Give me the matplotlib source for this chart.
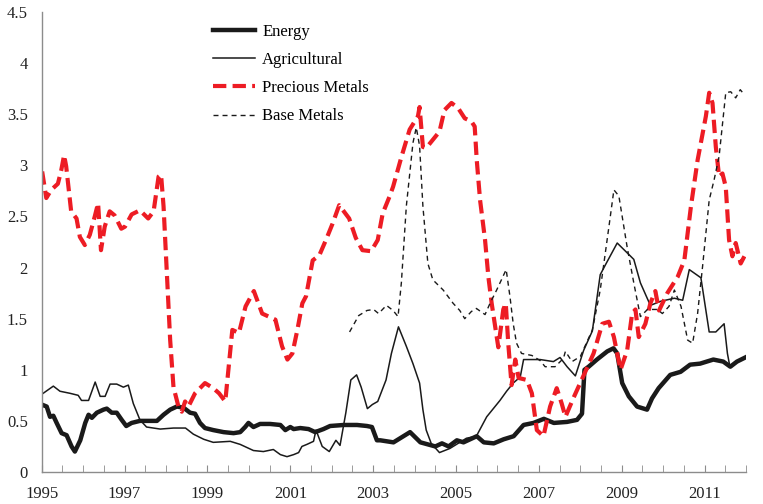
import matplotlib.pyplot as plt
import numpy as np

# dates in decimal years
energy_t = [1995.00, 1995.12, 1995.20, 1995.28, 1995.36, 1995.48, 1995.60, 1995.72, 1995.80, 1995.93,
            1996.05, 1996.13, 1996.21, 1996.33, 1996.49, 1996.57, 1996.69, 1996.81, 1996.93, 1997.04,
            1997.17, 1997.37, 1997.78, 1997.94, 1998.10, 1998.26, 1998.42, 1998.58, 1998.70, 1998.82,
            1998.94, 1999.14, 1999.39, 1999.63, 1999.79, 1999.91, 1999.99, 2000.11, 2000.27, 2000.51,
            2000.76, 2000.88, 2001.00, 2001.08, 2001.24, 2001.44, 2001.60, 2001.80, 2001.96, 2002.29,
            2002.61, 2002.85, 2002.97, 2003.09, 2003.17, 2003.49, 2003.89, 2004.14, 2004.50, 2004.66,
            2004.82, 2005.02, 2005.18, 2005.50, 2005.67, 2005.91, 2006.15, 2006.39, 2006.63, 2006.87,
            2007.12, 2007.36, 2007.68, 2007.92, 2008.04, 2008.10, 2008.20, 2008.40, 2008.65, 2008.80,
            2008.89, 2009.01, 2009.17, 2009.37, 2009.61, 2009.73, 2009.89, 2010.17, 2010.42, 2010.65,
            2010.89, 2011.21, 2011.45, 2011.62, 2011.78, 2011.98]
energy_v = [0.66, 0.64, 0.54, 0.55, 0.48, 0.38, 0.36, 0.25, 0.20, 0.31,
            0.48, 0.56, 0.53, 0.58, 0.61, 0.62, 0.58, 0.58, 0.51, 0.45,
            0.48, 0.50, 0.50, 0.56, 0.61, 0.64, 0.63, 0.58, 0.57, 0.48,
            0.43, 0.41, 0.39, 0.38, 0.39, 0.44, 0.48, 0.44, 0.47, 0.47,
            0.46, 0.41, 0.44, 0.42, 0.43, 0.42, 0.39, 0.42, 0.45, 0.46,
            0.46, 0.45, 0.44, 0.31, 0.31, 0.29, 0.39, 0.29, 0.25, 0.28,
            0.25, 0.31, 0.29, 0.35, 0.29, 0.28, 0.32, 0.35, 0.46, 0.48,
            0.52, 0.48, 0.49, 0.51, 0.57, 1.00, 1.03, 1.10, 1.18, 1.21,
            1.16, 0.87, 0.74, 0.64, 0.61, 0.72, 0.82, 0.95, 0.98, 1.05,
            1.06, 1.10, 1.08, 1.03, 1.08, 1.12]

agri_t = [1995.00, 1995.28, 1995.44, 1995.68, 1995.88, 1995.96, 1996.13, 1996.29, 1996.41, 1996.53,
          1996.65, 1996.81, 1996.97, 1997.09, 1997.21, 1997.37, 1997.53, 1997.86, 1998.18, 1998.47,
          1998.66, 1998.91, 1999.14, 1999.55, 1999.79, 2000.11, 2000.35, 2000.59, 2000.76, 2000.92,
          2001.08, 2001.20, 2001.28, 2001.40, 2001.56, 2001.62, 2001.77, 2001.94, 2002.10, 2002.20,
          2002.34, 2002.46, 2002.60, 2002.71, 2002.86, 2002.98, 2003.11, 2003.31, 2003.44, 2003.61,
          2003.80, 2003.96, 2004.12, 2004.20, 2004.28, 2004.40, 2004.60, 2004.85, 2005.05, 2005.25,
          2005.49, 2005.74, 2005.90, 2006.06, 2006.22, 2006.38, 2006.55, 2006.63, 2007.03, 2007.35,
          2007.51, 2007.68, 2007.88, 2008.08, 2008.29, 2008.48, 2008.61, 2008.89, 2009.29, 2009.45,
          2009.69, 2009.94, 2010.27, 2010.47, 2010.63, 2010.91, 2011.11, 2011.27, 2011.47, 2011.55,
          2011.61]
agri_v = [0.76, 0.84, 0.79, 0.77, 0.75, 0.70, 0.70, 0.88, 0.74, 0.74,
          0.86, 0.86, 0.83, 0.85, 0.67, 0.51, 0.44, 0.42, 0.43, 0.43,
          0.37, 0.32, 0.29, 0.30, 0.27, 0.21, 0.20, 0.22, 0.17, 0.15,
          0.17, 0.19, 0.25, 0.27, 0.30, 0.41, 0.25, 0.20, 0.31, 0.26,
          0.58, 0.90, 0.95, 0.83, 0.62, 0.66, 0.69, 0.90, 1.16, 1.42,
          1.23, 1.06, 0.87, 0.61, 0.41, 0.28, 0.19, 0.23, 0.28, 0.33,
          0.35, 0.54, 0.62, 0.70, 0.79, 0.87, 0.93, 1.10, 1.10, 1.08,
          1.12, 1.03, 0.94, 1.19, 1.38, 1.93, 2.03, 2.24, 2.08, 1.85,
          1.63, 1.67, 1.70, 1.68, 1.98, 1.90, 1.37, 1.37, 1.45, 1.16,
          1.03]

prec_t = [1995.01, 1995.11, 1995.23, 1995.39, 1995.47, 1995.54, 1995.59, 1995.71, 1995.84, 1995.92,
          1996.04, 1996.16, 1996.28, 1996.36, 1996.43, 1996.52, 1996.64, 1996.76, 1996.92, 1997.01,
          1997.17, 1997.37, 1997.57, 1997.70, 1997.82, 1997.88, 1997.94, 1998.02, 1998.10, 1998.18,
          1998.30, 1998.38, 1998.46, 1998.54, 1998.70, 1998.94, 1999.14, 1999.28, 1999.43, 1999.60,
          1999.76, 1999.92, 2000.12, 2000.32, 2000.48, 2000.64, 2000.80, 2000.93, 2001.05, 2001.17,
          2001.29, 2001.38, 2001.54, 2001.70, 2001.86, 2002.02, 2002.18, 2002.42, 2002.58, 2002.74,
          2002.95, 2003.11, 2003.23, 2003.39, 2003.48, 2003.68, 2003.88, 2004.08, 2004.12, 2004.20,
          2004.28, 2004.44, 2004.60, 2004.72, 2004.89, 2005.05, 2005.21, 2005.37, 2005.45, 2005.50,
          2005.58, 2005.70, 2005.78, 2005.86, 2005.98, 2006.02, 2006.14, 2006.20, 2006.26, 2006.34,
          2006.43, 2006.51, 2006.71, 2006.83, 2006.95, 2007.11, 2007.27, 2007.43, 2007.55, 2007.64,
          2007.84, 2008.12, 2008.32, 2008.53, 2008.69, 2008.81, 2008.97, 2009.13, 2009.25, 2009.33,
          2009.41, 2009.57, 2009.69, 2009.81, 2009.90, 2010.10, 2010.35, 2010.51, 2010.67, 2010.83,
          2011.03, 2011.11, 2011.19, 2011.27, 2011.35, 2011.43, 2011.51, 2011.59, 2011.67, 2011.75,
          2011.87, 2011.96]
prec_v = [2.94, 2.68, 2.76, 2.82, 2.95, 3.10, 2.99, 2.55, 2.48, 2.30,
          2.22, 2.32, 2.50, 2.63, 2.17, 2.40, 2.55, 2.51, 2.38, 2.40,
          2.52, 2.56, 2.48, 2.55, 2.89, 2.91, 2.60, 1.94, 1.29, 0.83,
          0.64, 0.59, 0.69, 0.64, 0.77, 0.87, 0.82, 0.77, 0.69, 1.39,
          1.36, 1.62, 1.77, 1.55, 1.52, 1.49, 1.23, 1.10, 1.16, 1.39,
          1.65, 1.72, 2.07, 2.12, 2.27, 2.43, 2.61, 2.48, 2.29, 2.17,
          2.16, 2.27, 2.53, 2.69, 2.79, 3.08, 3.35, 3.48, 3.57, 3.18,
          3.17, 3.25, 3.33, 3.54, 3.61, 3.56, 3.46, 3.43, 3.38, 3.05,
          2.66, 2.27, 1.91, 1.65, 1.33, 1.22, 1.59, 1.65, 1.26, 0.85,
          1.10, 0.92, 0.90, 0.77, 0.41, 0.35, 0.64, 0.82, 0.67, 0.54,
          0.73, 0.98, 1.16, 1.45, 1.47, 1.32, 1.00, 1.19, 1.55, 1.59,
          1.32, 1.45, 1.65, 1.77, 1.58, 1.75, 1.91, 2.07, 2.60, 3.05,
          3.48, 3.71, 3.61, 3.18, 2.89, 2.92, 2.79, 2.27, 2.11, 2.24,
          2.04, 2.11]

base_t = [2002.43, 2002.65, 2002.85, 2003.01, 2003.13, 2003.32, 2003.48, 2003.60, 2003.68, 2003.80,
          2003.96, 2004.04, 2004.12, 2004.20, 2004.32, 2004.44, 2004.69, 2004.93, 2005.09, 2005.21,
          2005.37, 2005.49, 2005.70, 2005.82, 2005.98, 2006.21, 2006.30, 2006.38, 2006.46, 2006.58,
          2006.83, 2007.03, 2007.15, 2007.39, 2007.59, 2007.64, 2007.80, 2008.00, 2008.29, 2008.48,
          2008.69, 2008.81, 2008.93, 2009.13, 2009.29, 2009.45, 2009.62, 2009.86, 2009.98, 2010.14,
          2010.27, 2010.43, 2010.59, 2010.71, 2010.83, 2010.95, 2011.11, 2011.23, 2011.35, 2011.51,
          2011.63, 2011.75, 2011.86, 2011.96]
base_v = [1.37, 1.53, 1.58, 1.59, 1.55, 1.63, 1.58, 1.52, 1.85, 2.60,
          3.22, 3.37, 3.19, 2.60, 2.04, 1.88, 1.78, 1.65, 1.58, 1.50,
          1.57, 1.60, 1.54, 1.65, 1.78, 1.98, 1.72, 1.45, 1.26, 1.16,
          1.14, 1.09, 1.03, 1.03, 1.11, 1.18, 1.08, 1.13, 1.39, 1.78,
          2.40, 2.76, 2.70, 2.20, 1.85, 1.52, 1.59, 1.59, 1.55, 1.62,
          1.78, 1.62, 1.29, 1.26, 1.55, 2.01, 2.66, 2.86, 3.09, 3.71,
          3.72, 3.66, 3.74, 3.69]

year_labels = [1995, 1997, 1999, 2001, 2003, 2005, 2007, 2009, 2011]

plt.rcParams['font.family'] = ['Liberation Serif', 'DejaVu Serif']
plt.rcParams['font.size'] = 12

fig = plt.figure(figsize=(7.63, 5.04), dpi=100)
ax = fig.add_axes([0.0547, 0.0635, 0.9231, 0.9127])

ax.plot(energy_t, energy_v, color='#1a1a1a', lw=3.2, label='Energy', solid_joinstyle='round')
ax.plot(agri_t, agri_v, color='#1a1a1a', lw=1.1, label='Agricultural')
ax.plot(prec_t, prec_v, color='#ED1C24', lw=3.0, dashes=(3.2, 1.5), label='Precious Metals')
ax.plot(base_t, base_v, color='#1a1a1a', lw=1.0, dashes=(3.6, 2.9), label='Base Metals')

ax.set_xlim(1995, 2012)
ax.set_ylim(0, 4.5)
ax.set_yticks(np.arange(0, 4.51, 0.5))
ax.set_yticklabels(['0', '0.5', '1', '1.5', '2', '2.5', '3', '3.5', '4', '4.5'])
ax.set_xticks(year_labels)
ax.set_xticklabels([str(y) for y in year_labels])
ax.set_xticks(np.arange(1995, 2012.01, 0.5), minor=True)

for s in ['top', 'right']:
    ax.spines[s].set_visible(False)
for s in ['left', 'bottom']:
    ax.spines[s].set_color('#8c8c8c')
    ax.spines[s].set_linewidth(1.0)

ax.tick_params(axis='y', length=0, pad=10, labelcolor='#222222')
ax.tick_params(axis='x', which='both', direction='in', length=5, color='#8c8c8c', pad=10, labelcolor='#222222')

leg = ax.legend(loc='upper left', bbox_to_anchor=(0.243, 0.974), frameon=False,
                handlelength=2.5, handletextpad=0.45, labelspacing=0.73, borderpad=0, borderaxespad=0)

plt.savefig('out.png', dpi=100)
